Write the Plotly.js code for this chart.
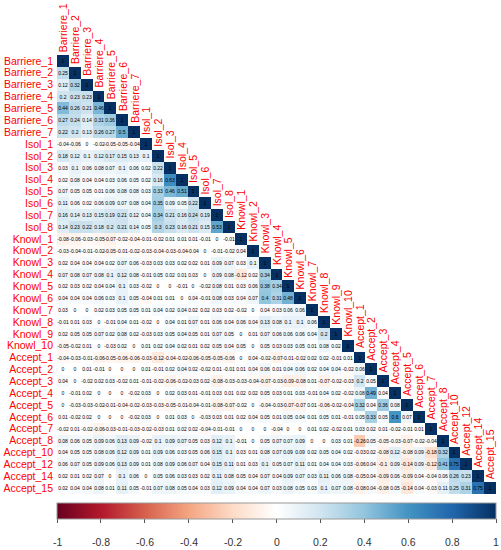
<!DOCTYPE html>
<html>
<head>
<meta charset="utf-8">
<script src="https://cdn.plot.ly/plotly-3.0.1.min.js"></script>
<style>
  html, body { margin: 0; padding: 0; background: #ffffff; }
  #chart { width: 501px; height: 550px; }
</style>
</head>
<body>
<div id="chart"></div>
<script>
// ---- Variable names (rows top-to-bottom, columns left-to-right) ----
const labels = [
  "Barriere_1","Barriere_2","Barriere_3","Barriere_4","Barriere_5","Barriere_6","Barriere_7",
  "Isol_1","Isol_2","Isol_3","Isol_4","Isol_5","Isol_6","Isol_7","Isol_8",
  "Knowl_1","Knowl_2","Knowl_3","Knowl_4","Knowl_5","Knowl_6","Knowl_7","Knowl_8","Knowl_9","Knowl_10",
  "Accept_1","Accept_2","Accept_3","Accept_4","Accept_5","Accept_6","Accept_7","Accept_8",
  "Accept_10","Accept_12","Accept_14","Accept_15"
];

// ---- Lower-triangle correlations: each row holds r with the preceding variables ----
const row_Barriere_1 = [];
const row_Barriere_2 = [0.25];
const row_Barriere_3 = [0.12, 0.32];
const row_Barriere_4 = [0.2, 0.23, 0.23];
const row_Barriere_5 = [0.44, 0.26, 0.21, 0.46];
const row_Barriere_6 = [0.27, 0.24, 0.14, 0.31, 0.36];
const row_Barriere_7 = [0.22, 0.2, 0.13, 0.26, 0.27, 0.5];
const row_Isol_1 = [-0.04, -0.06, 0, -0.02, -0.05, -0.05, -0.04];
const row_Isol_2 = [0.18, 0.12, 0.1, 0.12, 0.17, 0.15, 0.13, 0.1];
const row_Isol_3 = [0.03, 0.1, 0.06, 0.08, 0.07, 0.1, 0.06, 0.02, 0.22];
const row_Isol_4 = [0.02, 0.08, 0.04, 0.04, 0.03, 0.06, 0.05, 0.02, 0.16, 0.63];
const row_Isol_5 = [0.07, 0.05, 0.05, 0.01, 0.06, 0.08, 0.08, 0.03, 0.33, 0.46, 0.51];
const row_Isol_6 = [0.11, 0.06, 0.02, 0.06, 0.09, 0.07, 0.08, 0.04, 0.35, 0.09, 0.05, 0.22];
const row_Isol_7 = [0.16, 0.14, 0.13, 0.15, 0.19, 0.21, 0.12, 0.04, 0.34, 0.21, 0.16, 0.24, 0.19];
const row_Isol_8 = [0.14, 0.23, 0.22, 0.18, 0.2, 0.21, 0.14, 0.05, 0.3, 0.23, 0.16, 0.21, 0.15, 0.53];
const row_Knowl_1 = [-0.08, -0.06, -0.03, -0.05, -0.07, -0.02, -0.04, -0.01, -0.02, 0.01, 0.01, 0.01, -0.01, 0, -0.01];
const row_Knowl_2 = [-0.03, -0.04, -0.01, -0.02, -0.05, -0.01, -0.02, -0.03, -0.04, -0.03, -0.04, -0.04, 0, -0.01, -0.02, 0.04];
const row_Knowl_3 = [0.02, 0.04, 0.04, 0.04, 0.02, 0.07, 0.06, -0.03, 0.03, 0.03, 0.02, 0.02, 0.01, 0.09, 0.07, 0.03, 0.1];
const row_Knowl_4 = [0.07, 0.08, 0.07, 0.08, 0.1, 0.12, 0.08, -0.01, 0.05, 0.02, 0.01, 0.03, 0, 0.09, 0.08, -0.12, 0.02, 0.34];
const row_Knowl_5 = [0.02, 0.03, 0.02, 0.04, 0.04, 0.1, 0.03, -0.02, 0, 0, -0.01, 0, -0.02, 0.08, 0.01, 0.03, 0.06, 0.38, 0.34];
const row_Knowl_6 = [0.04, 0.04, 0.04, 0.06, 0.03, 0.1, 0.05, -0.04, 0.01, 0.01, 0, 0.04, -0.01, 0.08, 0.03, 0.04, 0.07, 0.4, 0.31, 0.48];
const row_Knowl_7 = [0.03, 0, 0, 0.02, 0.03, 0.05, 0.05, 0.01, 0.04, 0.02, 0.04, 0.02, 0.02, 0.03, 0.02, -0.02, 0, 0.04, 0.03, 0.06, 0.06];
const row_Knowl_8 = [-0.01, 0.01, 0.03, 0, -0.01, 0.04, 0.01, -0.02, 0, 0.04, 0.01, 0.07, 0.01, 0.06, 0.04, 0.06, 0.04, 0.13, 0.08, 0.1, 0.1, 0.06];
const row_Knowl_9 = [0.02, 0.05, 0.05, 0.07, 0.02, 0.08, 0.02, -0.03, 0.03, 0.05, 0.04, 0.05, 0.01, 0.07, 0.05, 0, 0.01, 0.07, 0.06, 0.06, 0.06, 0.04, 0.2];
const row_Knowl_10 = [-0.05, -0.02, 0.01, 0, -0.03, 0.02, 0, 0.01, 0.02, 0.04, 0.02, 0.01, 0.02, 0.05, 0.04, 0.05, 0, 0.05, 0.03, 0.03, 0.05, 0.01, 0.08, 0.02];
const row_Accept_1 = [-0.04, -0.03, -0.01, -0.06, -0.05, -0.06, -0.06, -0.03, -0.12, -0.04, -0.02, -0.06, -0.05, -0.05, -0.06, 0, 0.04, -0.02, -0.07, -0.01, -0.02, 0.02, 0.02, -0.01, 0.01];
const row_Accept_2 = [0, 0, 0.01, -0.01, 0, 0, 0, 0.01, -0.01, 0.02, 0.04, 0.02, -0.02, 0.01, -0.01, 0.01, 0.04, 0.06, 0.01, 0.04, 0.06, 0.02, 0.04, 0.04, -0.02, 0.06];
const row_Accept_3 = [0.04, 0, -0.02, 0.02, 0.03, -0.02, 0.01, -0.01, -0.02, -0.06, -0.02, -0.03, 0.02, -0.08, -0.03, -0.03, -0.04, -0.07, -0.03, -0.09, -0.08, 0.01, -0.07, -0.02, -0.03, 0.2, 0.05];
const row_Accept_4 = [0, -0.01, 0.02, 0, 0, 0, -0.02, 0.03, 0, 0.02, 0.03, 0.01, -0.01, 0.03, 0.01, 0.02, 0.02, 0.05, 0.03, 0.01, 0.03, -0.01, 0.04, 0.02, -0.02, 0.08, 0.49, 0.04];
const row_Accept_5 = [0, -0.03, -0.03, -0.02, -0.01, -0.04, -0.02, -0.03, -0.03, -0.05, -0.01, -0.04, -0.01, -0.08, -0.07, -0.02, 0, -0.04, -0.03, -0.07, -0.07, 0.01, -0.06, -0.02, -0.04, 0.32, 0.04, 0.36, 0.08];
const row_Accept_6 = [0.01, -0.02, 0.02, 0, 0, 0, -0.02, 0.03, 0, 0.01, 0.03, 0, -0.03, 0.03, 0.01, 0.02, 0.04, 0.05, 0.01, 0.05, 0.04, 0.01, 0.05, 0.01, -0.01, 0.05, 0.33, 0.05, 0.6, 0.07];
const row_Accept_7 = [-0.02, 0.01, -0.02, -0.06, -0.03, -0.01, -0.03, -0.02, -0.03, 0.01, 0.02, 0.02, -0.04, -0.01, -0.01, 0, 0, 0, -0.04, 0, 0, 0.01, 0.02, -0.02, 0.01, 0.03, 0.02, 0.01, -0.02, -0.01, 0.01];
const row_Accept_8 = [0.08, 0.06, 0.05, 0.09, 0.06, 0.13, 0.09, -0.02, 0.1, 0.09, 0.07, 0.05, 0.03, 0.12, 0.1, -0.01, 0, 0.05, 0.07, 0.07, 0.09, 0, 0, 0.03, 0.01, -0.26, 0.05, -0.05, -0.03, -0.07, -0.02, -0.04];
const row_Accept_10 = [0.04, 0.05, 0.05, 0.08, 0.06, 0.12, 0.09, 0.01, 0.09, 0.06, 0.03, 0.05, 0.06, 0.15, 0.1, 0.03, 0.01, 0.08, 0.07, 0.09, 0.09, 0.02, 0.05, 0.04, 0.02, -0.03, 0.02, -0.08, 0.12, -0.08, 0.09, -0.18, 0.32];
const row_Accept_12 = [0.06, 0.07, 0.05, 0.09, 0.06, 0.13, 0.09, 0.01, 0.08, 0.09, 0.06, 0.07, 0.04, 0.15, 0.11, 0.01, 0.03, 0.1, 0.05, 0.07, 0.11, 0.01, 0.04, 0.04, 0.03, -0.06, 0.04, -0.1, 0.09, -0.14, 0.09, -0.12, 0.41, 0.75];
const row_Accept_14 = [0.02, 0.01, 0.02, 0.07, 0, 0.1, 0.06, 0, 0.05, 0.06, 0.03, 0.03, 0.02, 0.11, 0.08, 0.05, 0.04, 0.07, 0.04, 0.09, 0.07, 0.03, 0.11, 0.06, 0.08, -0.05, 0.04, -0.09, 0.06, -0.09, 0.04, -0.04, 0.06, 0.26, 0.23];
const row_Accept_15 = [0.02, 0.04, 0.04, 0.08, 0.01, 0.11, 0.05, -0.01, 0.07, 0.08, 0.05, 0.04, 0.03, 0.12, 0.09, 0.04, 0.04, 0.07, 0.03, 0.08, 0.05, 0.03, 0.1, 0.07, 0.08, -0.08, 0.04, -0.08, 0.05, -0.14, 0.04, -0.03, 0.11, 0.25, 0.31, 0.75];

const colorbarTicks = [-1, -0.8, -0.6, -0.4, -0.2, 0, 0.2, 0.4, 0.6, 0.8, 1];
const colorbarTickText = ["-1", "-0.8", "-0.6", "-0.4", "-0.2", "0", "0.2", "0.4", "0.6", "0.8", "1"];

// ---- Build matrix from the named rows ----
const lowerRows = [
  row_Barriere_1, row_Barriere_2, row_Barriere_3, row_Barriere_4, row_Barriere_5, row_Barriere_6, row_Barriere_7,
  row_Isol_1, row_Isol_2, row_Isol_3, row_Isol_4, row_Isol_5, row_Isol_6, row_Isol_7, row_Isol_8,
  row_Knowl_1, row_Knowl_2, row_Knowl_3, row_Knowl_4, row_Knowl_5, row_Knowl_6, row_Knowl_7, row_Knowl_8, row_Knowl_9, row_Knowl_10,
  row_Accept_1, row_Accept_2, row_Accept_3, row_Accept_4, row_Accept_5, row_Accept_6, row_Accept_7, row_Accept_8,
  row_Accept_10, row_Accept_12, row_Accept_14, row_Accept_15
];

const n = labels.length;
const z = [], txt = [];
for (let i = 0; i < n; i++) {
  const zr = [], tr = [];
  for (let j = 0; j < n; j++) {
    if (j < i) { zr.push(lowerRows[i][j]); tr.push(String(lowerRows[i][j])); }
    else if (j === i) { zr.push(1); tr.push("1"); }
    else { zr.push(null); tr.push(""); }
  }
  z.push(zr); txt.push(tr);
}

const rdbu = ["#67001F", "#B2182B", "#D6604D", "#F4A582", "#FDDBC7", "#FFFFFF",
              "#D1E5F0", "#92C5DE", "#4393C3", "#2166AC", "#053061"];
const colorscale = rdbu.map((c, k) => [k / (rdbu.length - 1), c]);

const labelFont = { family: "Arial, 'Liberation Sans', sans-serif", size: 10.5, color: "#FF0000" };

// Page geometry (px): matrix 55..494 vertically, colour bar 503..519, its labels centred ~542
const H = 550, TOP = 55;
const paperH = H - TOP;            // bottom margin is 0
const fy = px => (H - px) / paperH; // page px -> paper fraction

const trace = {
  type: "heatmap",
  x: labels, y: labels, z: z,
  text: txt,
  texttemplate: "%{text}",
  textfont: { family: "Arial, 'Liberation Sans', sans-serif", size: 5, color: "#000000" },
  colorscale: colorscale, zmin: -1, zmax: 1,
  xgap: 0, ygap: 0,
  hoverinfo: "skip",
  colorbar: {
    orientation: "h",
    x: 0.5, xanchor: "center",
    y: fy(503), yanchor: "top",
    len: 1, lenmode: "fraction",
    thickness: 16, thicknessmode: "pixels",
    xpad: 0, ypad: 0,
    outlinewidth: 1, outlinecolor: "#9a9a9a",
    tickmode: "array", tickvals: colorbarTicks, ticktext: colorbarTickText,
    ticks: "outside", ticklen: 4, tickcolor: "#555555",
    showticklabels: false
  }
};

const annotations = labels.map(l => ({
  x: l, y: l, xref: "x", yref: "y",
  text: l, textangle: -90, showarrow: false,
  xanchor: "center", yanchor: "bottom", yshift: 7,
  font: labelFont
}));

colorbarTicks.forEach((v, k) => {
  annotations.push({
    x: (v + 1) / 2, y: fy(542), xref: "paper", yref: "paper",
    text: colorbarTickText[k], showarrow: false,
    xanchor: "center", yanchor: "middle",
    font: { family: "Arial, 'Liberation Sans', sans-serif", size: 10.5, color: "#333333" }
  });
});

const layout = {
  width: 501, height: H,
  margin: { l: 57, r: 5, t: TOP, b: 0, pad: 0, autoexpand: false },
  paper_bgcolor: "#ffffff", plot_bgcolor: "#ffffff",
  xaxis: { showticklabels: false, showgrid: false, zeroline: false, showline: false, ticks: "",
           anchor: "y", autorange: false, range: [-0.5, n - 0.5] },
  yaxis: {
    domain: [fy(494), 1],
    autorange: false, range: [n - 0.5, -0.5],
    showgrid: false, zeroline: false, showline: false, ticks: "",
    tickmode: "array", tickvals: labels, ticktext: labels,
    tickfont: labelFont, ticklabelstandoff: 3, automargin: false
  },
  annotations: annotations,
  showlegend: false
};

Plotly.newPlot("chart", [trace], layout, { displayModeBar: false, staticPlot: true });
</script>
</body>
</html>
